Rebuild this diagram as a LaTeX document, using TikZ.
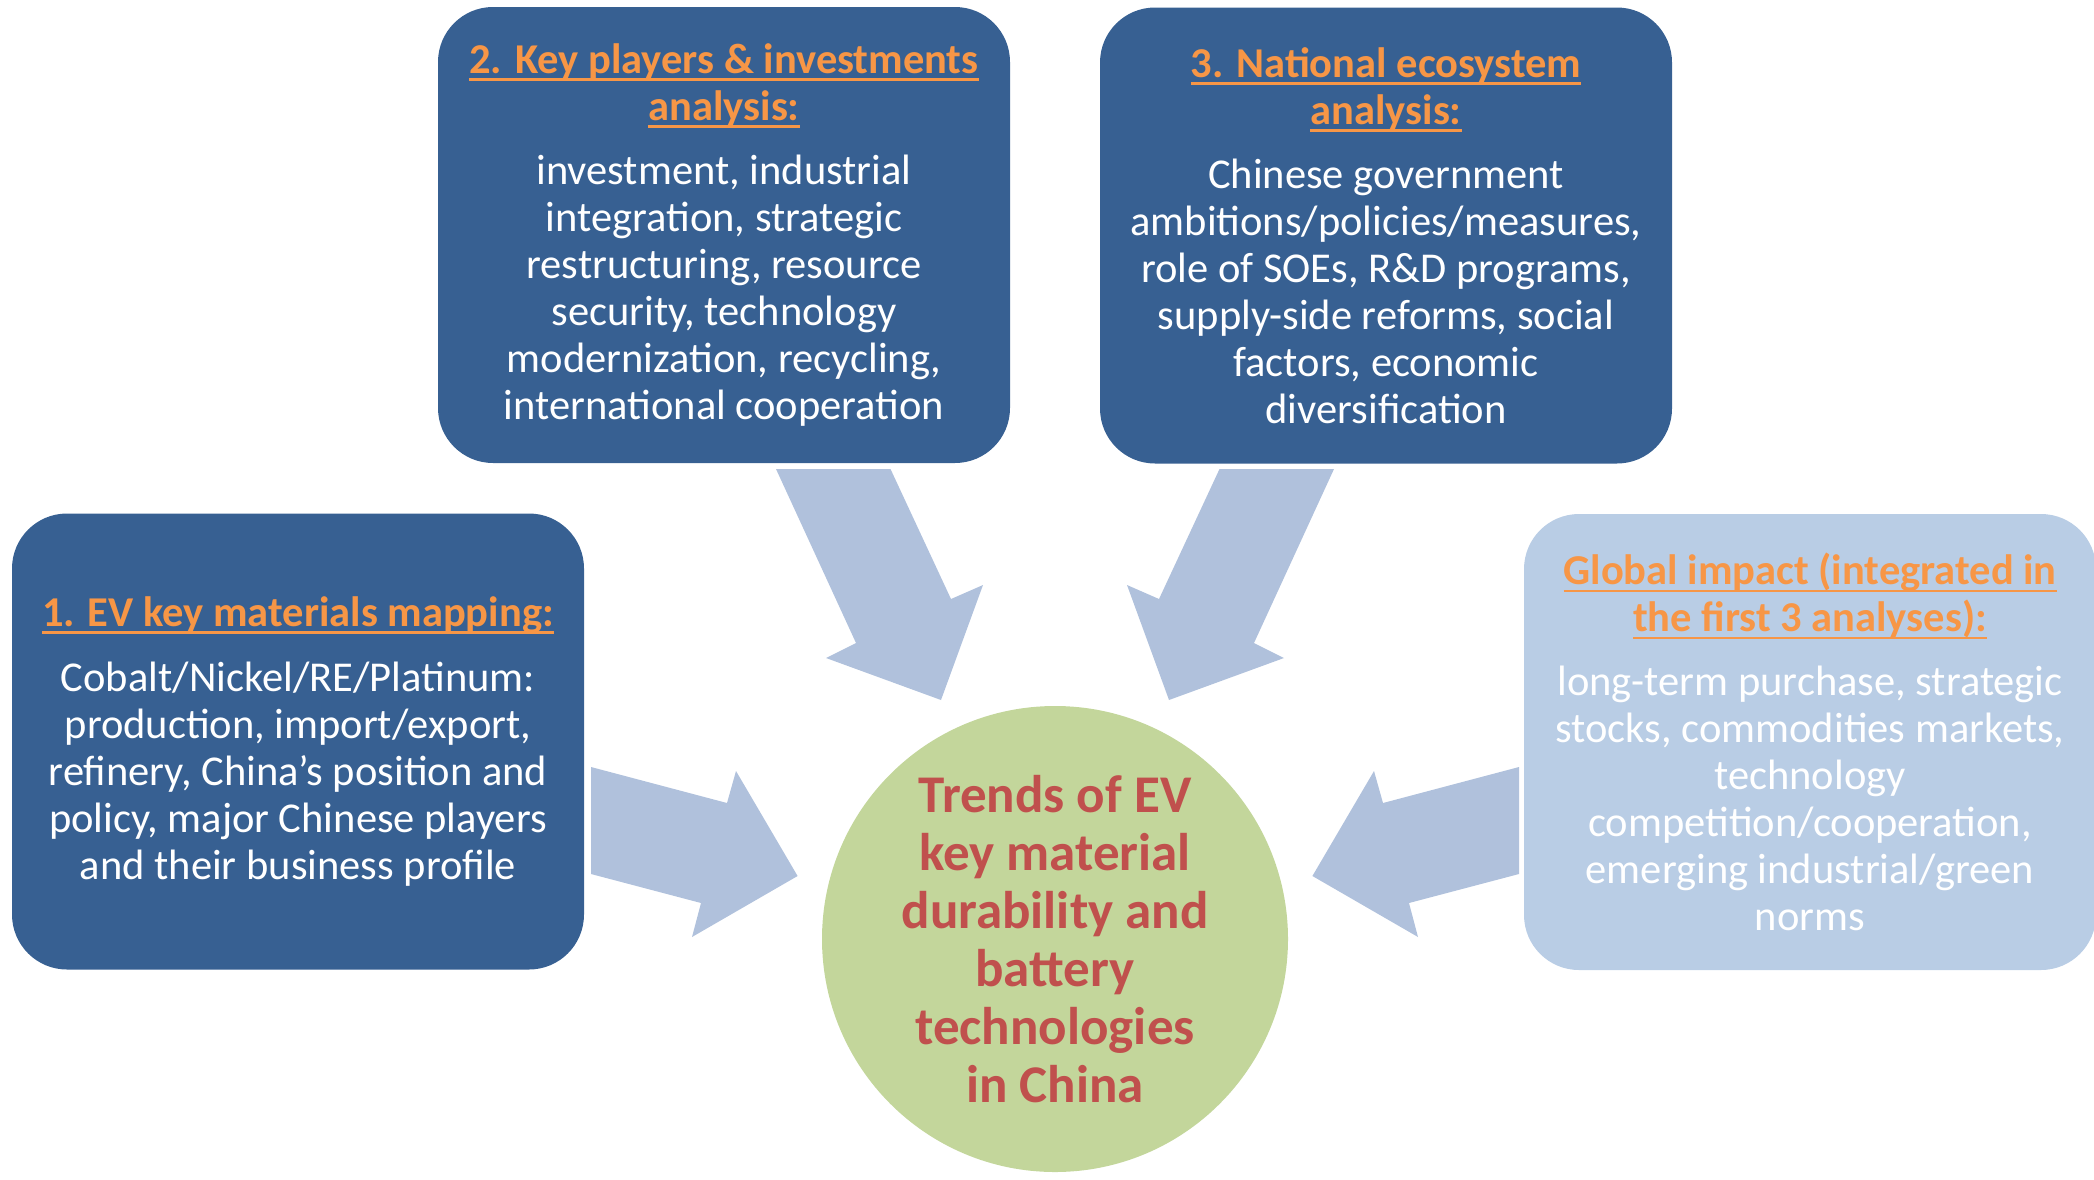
\documentclass[tikz,border=0pt]{standalone}
\usepackage{fontspec}
\setmainfont{Carlito}
\definecolor{boxblue}{RGB}{55,96,146}
\definecolor{lightbox}{RGB}{185,205,229}
\definecolor{arrowblue}{RGB}{176,193,220}
\definecolor{circgreen}{RGB}{195,214,155}
\definecolor{hdorange}{RGB}{247,150,70}
\definecolor{circred}{RGB}{192,80,77}
\newsavebox\hdbox
\newcommand\hdul[1]{\sbox\hdbox{#1}\rlap{\rule[-7.5pt]{\wd\hdbox}{2.6pt}}\usebox\hdbox}
\newcommand\hd[1]{{\bfseries\color{hdorange}\hdul{#1}}}
\begin{document}
\begin{tikzpicture}[x=1pt,y=-1pt,
  panel/.style={draw=none, rounded corners=55pt, minimum width=572pt,
    minimum height=456pt, inner sep=0pt, align=center,
    font=\fontsize{42.5}{47}\selectfont},
  darkpanel/.style={panel, fill=boxblue, text=white},
  lightpanel/.style={panel, fill=lightbox, text=white},
  blockarrow/.style={fill=arrowblue, draw=none}]
\useasboundingbox (0,0) rectangle (2094,1179);

% block arrows
\fill[blockarrow] (776,469) -- (890.5,469) -- (951,599) -- (983,585) -- (941,700) -- (826,658) -- (856,643) -- cycle;
\fill[blockarrow] (1334,469) -- (1219.5,469) -- (1159,599) -- (1127,585) -- (1169,700) -- (1284,658) -- (1254,643) -- cycle;
\fill[blockarrow] (591,767) -- (727,803) -- (736,771) -- (797.6,876) -- (692,937) -- (701,903) -- (591,874) -- cycle;
\fill[blockarrow] (1519,767) -- (1383,803) -- (1374,771) -- (1312.4,876) -- (1418,937) -- (1409,903) -- (1519,874) -- cycle;

% centre
\node[circle, fill=circgreen, minimum size=466pt, inner sep=0pt, align=center,
  text=circred, font=\bfseries\fontsize{53}{58}\selectfont] (c) at (1055,939)
  {Trends of EV\\ key material\\ durability and\\ battery\\ technologies\\ in China};

% panels
\node[darkpanel] (b1) at (298,741.5)
  {\hd{1. EV key materials mapping:}\\[18pt]
   Cobalt/Nickel/RE/Platinum:\\ production, import/export,\\ refinery, China’s position and\\ policy, major Chinese players\\ and their business profile};

\node[darkpanel] (b2) at (724,235)
  {\hd{2. Key players \& investments}\\ \hd{analysis:}\\[17pt]
   investment, industrial\\ integration, strategic\\ restructuring, resource\\ security, technology\\ modernization, recycling,\\ international cooperation};

\node[darkpanel] (b3) at (1386,235.5)
  {\hd{3. National ecosystem}\\ \hd{analysis:}\\[17pt]
   Chinese government\\ ambitions/policies/measures,\\ role of SOEs, R\&D programs,\\ supply-side reforms, social\\ factors, economic\\ diversification};

\node[lightpanel] (b4) at (1810,742)
  {\hd{Global impact (integrated in}\\ \hd{the first 3 analyses):}\\[17pt]
   long-term purchase, strategic\\ stocks, commodities markets,\\ technology\\ competition/cooperation,\\ emerging industrial/green\\ norms};
\end{tikzpicture}
\end{document}
